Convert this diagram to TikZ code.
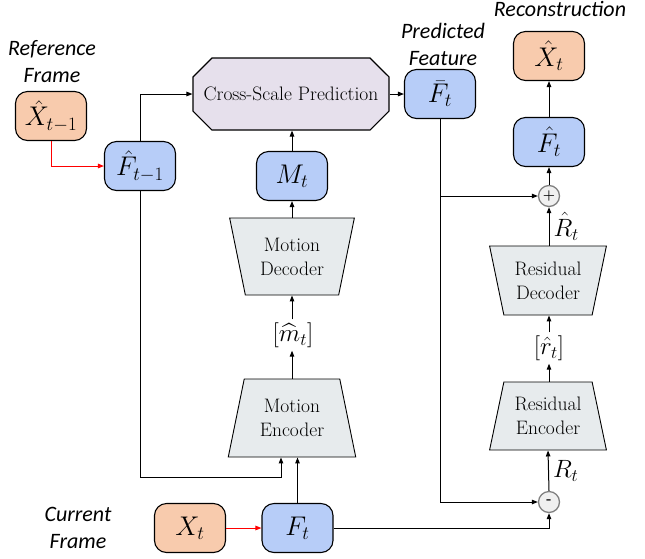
\RequirePackage{fix-cm}
\documentclass[tikz,border=0pt]{standalone}
\usepackage{fontspec}
\usepackage{amsmath}
\newfontfamily\labelfont{Carlito}
\usetikzlibrary{calc,arrows.meta,shapes.geometric,shapes.misc}

\definecolor{boxorange}{HTML}{F8CBAD}
\definecolor{boxblue}{HTML}{B7CDF8}
\definecolor{boxgray}{HTML}{E7EBED}
\definecolor{boxlilac}{HTML}{E6E0EC}
\definecolor{opgray}{HTML}{808080}
\definecolor{opfill}{HTML}{F0F0F0}

\tikzset{
	featbox/.style={draw=black, line width=1.1pt, rounded corners=12pt, minimum width=71pt, minimum height=49pt, inner sep=0pt, font=\fontsize{27}{30}\selectfont},
	framebox/.style={featbox, fill=boxorange},
	bluebox/.style={featbox, fill=boxblue},
	coder/.style={draw=black, line width=0.9pt, fill=boxgray, trapezium, trapezium stretches=true, trapezium angle=74, inner sep=0pt, align=center, font=\fontsize{19.5}{24}\selectfont},
	encbox/.style={coder},
	decbox/.style={coder, shape border rotate=180},
	predbox/.style={draw=black, line width=1.1pt, fill=boxlilac, chamfered rectangle, chamfered rectangle xsep=12pt, chamfered rectangle ysep=12pt, minimum width=196pt, minimum height=72pt, inner sep=0pt, font=\fontsize{19.5}{24}\selectfont},
	opnode/.style={circle, draw=opgray, line width=1.3pt, fill=opfill, minimum size=21pt, inner sep=0pt, font=\bfseries\fontsize{14}{14}\selectfont},
	caption/.style={align=center, font=\labelfont\itshape\fontsize{22}{27}\selectfont},
	sym/.style={inner sep=3pt, font=\fontsize{25}{28}\selectfont},
	arr/.style={-{Triangle[length=6pt,width=4.5pt]}, line width=1pt},
	redarr/.style={arr, color=red}
}

\begin{document}
\begin{tikzpicture}[x=1pt, y=-1pt]
		%%%%% START %%%%%
		\useasboundingbox (0, 0) rectangle (645, 558);
		
		% captions
		\node[caption] (refcap) at (52, 62) {Reference\\Frame};
		\node[caption] (predcap) at (443, 44) {Predicted\\Feature};
		\node[caption] (reccap) at (560, 9) {Reconstruction};
		\node[caption] (curcap) at (78, 528) {Current\\Frame};
		
		% feature boxes
		\node[framebox] (xprev) at (51, 116) {$\hat{X}_{t-1}$};
		\node[bluebox] (fprev) at (140, 166) {$\hat{F}_{t-1}$};
		\node[predbox] (csp) at (291, 94) {Cross-Scale Prediction};
		\node[bluebox] (fbar) at (440, 94) {$\bar{F}_t$};
		\node[framebox] (xhat) at (549, 56) {$\hat{X}_t$};
		\node[bluebox] (fhat) at (549, 142) {$\hat{F}_t$};
		\node[bluebox] (mt) at (292, 176) {$M_t$};
		\node[framebox] (xt) at (190, 528) {$X_t$};
		\node[bluebox] (ft) at (297.5, 528) {$F_t$};
		
		% motion branch
		\node[decbox, minimum width=125pt, minimum height=77pt] (mdec) at (292, 256.5) {Motion\\Decoder};
		\node[sym] (mlat) at (293, 335) {$[\widehat{m}_t]$};
		\node[encbox, minimum width=128pt, minimum height=78pt] (menc) at (292, 418) {Motion\\Encoder};
		
		% residual branch
		\node[opnode] (plus) at (549, 196) {+};
		\node[decbox, minimum width=117pt, minimum height=69pt] (rdec) at (548, 280.5) {Residual\\Decoder};
		\node[sym] (rlat) at (549, 348) {$[\hat{r}_t]$};
		\node[encbox, minimum width=117pt, minimum height=68pt] (renc) at (548, 416) {Residual\\Encoder};
		\node[opnode] (minus) at (549, 502) {-};
		
		% connectors
		\draw[redarr] (xprev.south) |- (fprev.west);
		\draw[redarr] (xt.east) -- (ft.west);
		\draw[arr] (fprev.north) |- (csp.west);
		\draw[arr] (csp.east) -- (fbar.west);
		\draw[arr] (mt.north) -- (csp.south -| mt.north);
		\draw[arr] (mdec.north -| mt.south) -- (mt.south);
		\draw[arr] (mlat.north -| mdec.south) -- (mdec.south);
		\draw[arr] (menc.north) -- (mlat.south -| menc.north);
		
		\coordinate (encin) at ($(menc.south)+(-11, 0)$);
		\draw[arr] (fprev.south) |- ($(encin)+(0, 20)$) -- (encin);
		\draw[arr] (ft.north) -- (ft.north |- menc.south);
		
		\draw[arr] (fbar.south) |- (minus.west);
		\draw[arr] (fbar.south |- plus.west) -- (plus.west);
		\draw[arr] (ft.east) -| (minus.south);
		\draw[arr] (minus.north) -- node[sym, right, xshift=1pt] (rtlab) {$R_t$} (renc.north |- renc.south);
		\draw[arr] (renc.north -| minus.north) -- (rlat.south -| minus.north);
		\draw[arr] (rlat.north -| minus.north) -- (rdec.south -| minus.north);
		\draw[arr] (rdec.north -| plus.south) -- node[sym, right, xshift=1pt] (rhlab) {$\hat{R}_t$} (plus.south);
		\draw[arr] (plus.north) -- (fhat.south);
		\draw[arr] (fhat.north) -- (xhat.south);
		
		%%%%% END %%%%%
\end{tikzpicture}
\end{document}
